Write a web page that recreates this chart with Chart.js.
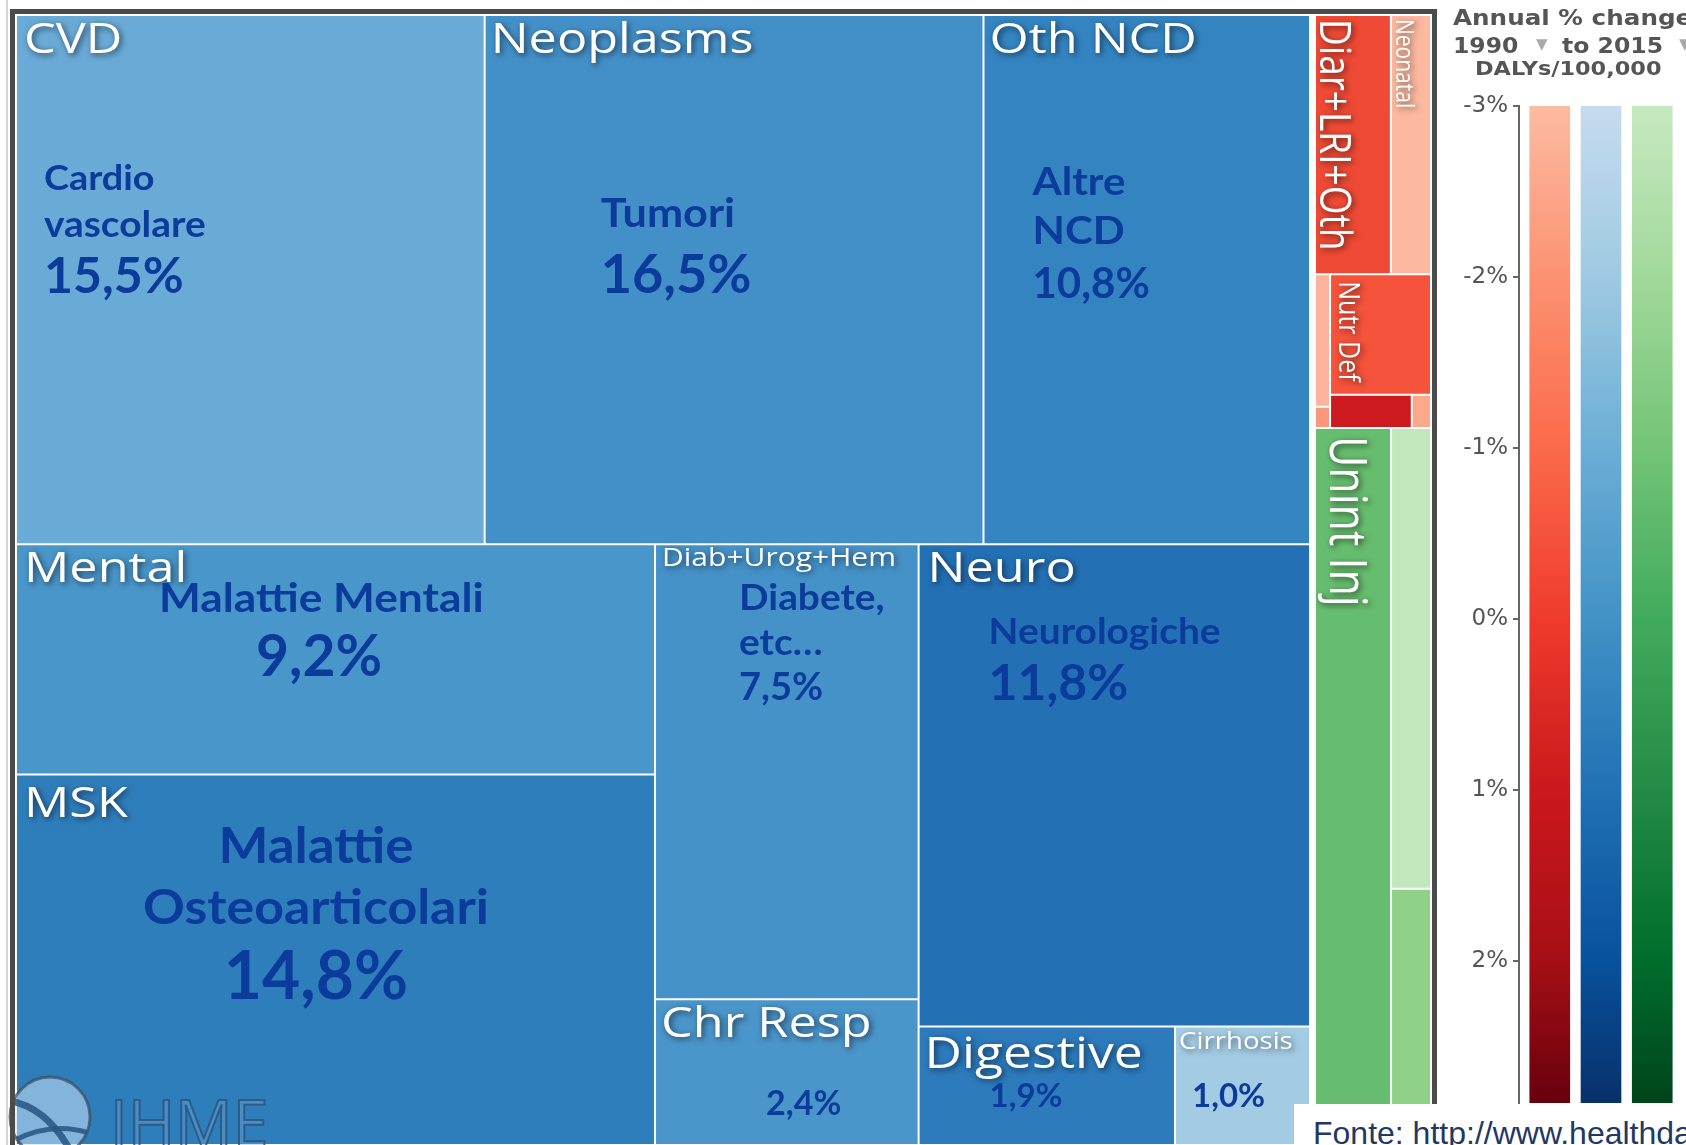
<!DOCTYPE html>
<html>
<head>
<meta charset="utf-8">
<script src="https://cdn.jsdelivr.net/npm/chart.js@4.4.1/dist/chart.umd.min.js"></script>
<style>
  body { margin: 0; width: 1686px; height: 1145px; overflow: hidden; background: #fff; position: relative; }
  #tmBox { position: absolute; left: 0; top: 0; width: 1440px; height: 1145px; }
  #lgBox { position: absolute; left: 1440px; top: 0; width: 246px; height: 1145px; }
  #fonte { position: absolute; left: 1294px; top: 1104px; width: 392px; height: 41px; background: #fff; overflow: hidden; }
  #fonte p { margin: 0; position: absolute; left: 19px; top: 13px; white-space: nowrap;
             font: 32px/32px "Liberation Sans", Arial, sans-serif; color: #1f3864; }
</style>
</head>
<body>
<div id="tmBox"><canvas id="treemap"></canvas></div>
<div id="lgBox"><canvas id="legend"></canvas></div>
<div id="fonte"><p>Fonte: http://www.healthdata.org/results/data-visualizations</p></div>
<script>
// share of DALYs (%) - non communicable diseases
const ncdNames  = ['CVD', 'Neoplasms', 'Oth NCD', 'Mental', 'MSK', 'Diab+Urog+Hem', 'Chr Resp', 'Neuro', 'Digestive', 'Cirrhosis'];
const ncdValues = [15.5, 16.5, 10.8, 9.2, 14.8, 7.5, 2.4, 11.8, 1.9, 1.0];
const ncdColors = ['#69aad6', '#4390c8', '#3484c1', '#4996ca', '#2f7ebc', '#4592c8', '#4a95ca', '#2470b5', '#2d7bbd', '#a3cce4'];

// communicable, maternal, neonatal, nutritional
const commNames  = ['Diar+LRI+Oth', 'Neonatal', 'Oth Comm', 'Maternal', 'Nutr Def', 'HIV+TB', 'NTD+Mal'];
const commValues = [1.23, 0.65, 0.125, 0.02, 0.76, 0.17, 0.04];
const commColors = ['#ef4a35', '#fcb99f', '#fcb59c', '#fb987c', '#f5533c', '#cc1a1e', '#fca88b'];

// injuries
const injNames  = ['Unint Inj', 'Transport', 'Self-harm'];
const injValues = [3.41, 1.15, 0.64];
const injColors = ['#67bd6f', '#c3e7bc', '#90d18a'];

// colour legend: annual % change 1990-2015
const legendCats  = ['Comm', 'NCD', 'Inj'];
const legendStops = [-3, -2, -1, 0, 1, 2, 2.83];
const legendReds   = ['#fcbba1', '#fc9272', '#fb6a4a', '#ef3b2c', '#cb181d', '#a50f15', '#67000d'];
const legendBlues  = ['#c6dbef', '#9ecae1', '#6baed6', '#4292c6', '#2171b5', '#08519c', '#08306b'];
const legendGreens = ['#c7e9c0', '#a1d99b', '#74c476', '#41ab5d', '#238b45', '#006d2c', '#00441b'];
const legendPalettes = [legendReds, legendBlues, legendGreens];

const names  = ncdNames.concat(commNames, injNames);
const values = ncdValues.concat(commValues, injValues);
const colors = ncdColors.concat(commColors, injColors);

// how the boxes are nested: 'h' splits side by side, 'v' splits top to bottom
const tree = ['h',
  ['v', ['h', 'CVD', 'Neoplasms', 'Oth NCD'],
        ['h', ['v', 'Mental', 'MSK'], ['v', 'Diab+Urog+Hem', 'Chr Resp'], ['v', 'Neuro', ['h', 'Digestive', 'Cirrhosis']]]],
  ['v', ['v', ['h', 'Diar+LRI+Oth', 'Neonatal'],
              ['h', ['v', 'Oth Comm', 'Maternal'], ['v', 'Nutr Def', ['h', 'HIV+TB', 'NTD+Mal']]]],
        ['h', 'Unint Inj', ['v', 'Transport', 'Self-harm']]]
];
const groupGap = 0.35;

function total(node) {
  if (typeof node === 'string') return values[names.indexOf(node)];
  return node.slice(1).reduce((s, n) => s + total(n), 0);
}

function layout(node, x0, y0, x1, y1, out, gap) {
  if (typeof node === 'string') { out[names.indexOf(node)] = { x0, y0, x1, y1 }; return; }
  const kids = node.slice(1);
  const sum = total(node);
  const g = gap || 0;
  const span = (node[0] === 'h' ? x1 - x0 : y1 - y0) - g * (kids.length - 1);
  let pos = node[0] === 'h' ? x0 : y0;
  kids.forEach(k => {
    const len = span * total(k) / sum;
    if (node[0] === 'h') layout(k, pos, y0, pos + len, y1, out);
    else layout(k, x0, pos, x1, pos + len, out);
    pos += len + g;
  });
}

const boxes = [];
layout(tree, 0, 0, 100, 100, boxes, groupGap);
const cells = boxes.map(b => ({ x: (b.x0 + b.x1) / 2, y: [b.y0, b.y1], x0: b.x0, x1: b.x1, y0: b.y0, y1: b.y1 }));

// bar elements placed as rectangles on linear x / y scales
class TreemapController extends Chart.BarController {
  updateElements(rects, start, count, mode) {
    const meta = this._cachedMeta;
    const xs = meta.xScale, ys = meta.yScale;
    const data = this.getDataset().data;
    for (let i = start; i < start + count; i++) {
      const d = data[i];
      const left = xs.getPixelForValue(d.x0), right = xs.getPixelForValue(d.x1);
      const top = ys.getPixelForValue(d.y0), bottom = ys.getPixelForValue(d.y1);
      this.updateElement(rects[i], i, {
        x: (left + right) / 2, y: top, base: bottom,
        width: right - left, height: bottom - top,
        horizontal: false, inflateAmount: 0,
        borderSkipped: { top: false, bottom: false, left: false, right: false },
        options: this.resolveDataElementOptions(i, mode)
      }, mode);
    }
  }
}
TreemapController.id = 'treemapLite';
Chart.register(TreemapController);

function drawText(ctx, txt, x, y, o) {
  ctx.save();
  ctx.translate(x, y);
  ctx.scale(o.sx || 1, 1);
  if (o.rotate) ctx.rotate(Math.PI / 2);
  ctx.font = o.font;
  ctx.fillStyle = o.color;
  ctx.textAlign = o.align || 'left';
  ctx.textBaseline = 'alphabetic';
  if (o.shadow) {
    ctx.shadowColor = 'rgba(0,0,0,0.6)';
    ctx.shadowBlur = 6;
    ctx.shadowOffsetX = 2;
    ctx.shadowOffsetY = 2;
  }
  ctx.fillText(txt, 0, 0);
  ctx.restore();
}

// [cell, text, dx, dy, size, rotated]
const whiteLabels = [
  ['CVD', 'CVD', 8, 38, 42], ['Neoplasms', 'Neoplasms', 6, 38, 42], ['Oth NCD', 'Oth NCD', 6, 38, 42],
  ['Mental', 'Mental', 8, 38, 42], ['MSK', 'MSK', 8, 43, 42], ['Diab+Urog+Hem', 'Diab+Urog+Hem', 7, 22, 25],
  ['Chr Resp', 'Chr Resp', 6, 38, 42], ['Neuro', 'Neuro', 9, 38, 42], ['Digestive', 'Digestive', 6, 42, 43],
  ['Cirrhosis', 'Cirrhosis', 4, 23, 23],
  ['Diar+LRI+Oth', 'Diar+LRI+Oth', 5, 4, 37, true], ['Neonatal', 'Neonatal', 5, 4, 21, true],
  ['Nutr Def', 'Nutr Def', 9, 7, 25, true], ['Unint Inj', 'Unint Inj', 15, 8, 43, true]
];
// [cell, text, dx, dy, size, centered]
const italianLabels = [
  ['CVD', 'Cardio', 28, 175, 35], ['CVD', 'vascolare', 28, 222, 36], ['CVD', '15,5%', 28, 278, 50],
  ['Neoplasms', 'Tumori', 116, 212, 40], ['Neoplasms', '16,5%', 116, 278, 54],
  ['Oth NCD', 'Altre', 49, 180, 39], ['Oth NCD', 'NCD', 49, 229, 39], ['Oth NCD', '10,8%', 49, 283, 42],
  ['Mental', 'Malattie Mentali', 143, 68, 41], ['Mental', '9,2%', 240, 132, 57],
  ['MSK', 'Malattie', 300, 89, 49, true], ['MSK', 'Osteoarticolari', 300, 150, 48, true], ['MSK', '14,8%', 300, 225, 66, true],
  ['Diab+Urog+Hem', 'Diabete,', 84, 66, 36], ['Diab+Urog+Hem', 'etc…', 84, 111, 36], ['Diab+Urog+Hem', '7,5%', 84, 156, 38],
  ['Chr Resp', '2,4%', 111, 116, 34],
  ['Neuro', 'Neurologiche', 70, 100, 36], ['Neuro', '11,8%', 70, 156, 50],
  ['Digestive', '1,9%', 71, 81, 33], ['Cirrhosis', '1,0%', 17, 81, 33]
];

function cellBox(chart, name) {
  const el = chart.getDatasetMeta(0).data[names.indexOf(name)];
  const p = el.getProps(['x', 'y', 'base', 'width']);
  return { left: p.x - p.width / 2, top: Math.min(p.y, p.base) };
}

const labelPlugin = {
  id: 'labels',
  afterDatasetsDraw(chart) {
    const ctx = chart.ctx;
    whiteLabels.forEach(([cell, txt, dx, dy, size, rot]) => {
      const b = cellBox(chart, cell);
      drawText(ctx, txt, b.left + dx, b.top + dy, {
        font: size + 'px "Open Sans", sans-serif', color: '#fff', sx: 1.2, rotate: rot, shadow: true
      });
    });
    italianLabels.forEach(([cell, txt, dx, dy, size, center]) => {
      const b = cellBox(chart, cell);
      const isNum = /%$/.test(txt);
      drawText(ctx, txt, b.left + dx, b.top + dy, {
        font: 'bold ' + size + 'px Lato, sans-serif', color: '#0b3b9b', sx: isNum ? 1 : 1.08,
        align: center ? 'center' : 'left'
      });
    });
  }
};

const framePlugin = {
  id: 'frame',
  afterDraw(chart) {
    const ctx = chart.ctx;
    ctx.save();
    // IHME watermark
    ctx.beginPath();
    ctx.arc(50, 1117, 40, 0, Math.PI * 2);
    ctx.fillStyle = 'rgba(200,225,245,0.55)';
    ctx.fill();
    ctx.save();
    ctx.clip();
    ctx.strokeStyle = 'rgba(40,85,130,0.85)';
    ctx.lineWidth = 7;
    ctx.beginPath();
    ctx.moveTo(5, 1100);
    ctx.quadraticCurveTo(45, 1105, 70, 1150);
    ctx.stroke();
    ctx.lineWidth = 5;
    ctx.beginPath();
    ctx.moveTo(15, 1140);
    ctx.quadraticCurveTo(55, 1120, 95, 1135);
    ctx.stroke();
    ctx.restore();
    ctx.beginPath();
    ctx.arc(50, 1117, 40, 0, Math.PI * 2);
    ctx.strokeStyle = 'rgba(60,80,100,0.75)';
    ctx.lineWidth = 3;
    ctx.stroke();
    ctx.font = '64px "Open Sans", sans-serif';
    ctx.fillStyle = 'rgba(120,170,215,0.35)';
    ctx.strokeStyle = 'rgba(45,85,125,0.85)';
    ctx.lineWidth = 2;
    ctx.fillText('IHME', 110, 1146);
    ctx.strokeText('IHME', 110, 1146);
    // frame
    ctx.strokeStyle = '#c8c8c8';
    ctx.lineWidth = 1.5;
    ctx.beginPath();
    ctx.moveTo(7, 0);
    ctx.lineTo(7, 1145);
    ctx.stroke();
    ctx.strokeStyle = '#4b4b4b';
    ctx.lineWidth = 5;
    ctx.strokeRect(12.5, 11.5, 1422, 1150);
    ctx.restore();
  }
};

new Chart(document.getElementById('treemap'), {
  type: 'treemapLite',
  data: {
    datasets: [{
      data: cells,
      backgroundColor: colors,
      borderColor: 'rgba(255,255,255,0.88)',
      borderWidth: 1
    }]
  },
  options: {
    responsive: true,
    maintainAspectRatio: false,
    animation: false,
    events: [],
    layout: { padding: { left: 16, top: 15, right: 9, bottom: 0 } },
    scales: {
      x: { type: 'linear', min: 0, max: 100, display: false, offset: false, grid: { offset: false } },
      y: { type: 'linear', min: 0, max: 100, reverse: true, display: false, offset: false }
    },
    plugins: { legend: { display: false }, tooltip: { enabled: false } }
  },
  plugins: [labelPlugin, framePlugin]
});

// colour key
function barGradient(c) {
  const chart = c.chart, y = chart.scales.y;
  const pal = legendPalettes[c.dataIndex];
  if (!chart.chartArea || !y) return pal[3];
  const top = y.getPixelForValue(legendStops[0]);
  const bot = y.getPixelForValue(legendStops[legendStops.length - 1]);
  const g = chart.ctx.createLinearGradient(0, top, 0, bot);
  legendStops.forEach((v, k) => g.addColorStop((y.getPixelForValue(v) - top) / (bot - top), pal[k]));
  return g;
}

const headerPlugin = {
  id: 'header',
  afterDraw(chart) {
    const ctx = chart.ctx;
    const dark = '#555555';
    drawText(ctx, 'Annual % change', 13, 25, { font: 'bold 22px "DejaVu Sans"', color: dark, sx: 1.12 });
    drawText(ctx, '1990', 13, 53, { font: 'bold 21px "DejaVu Sans"', color: dark, sx: 1.12 });
    drawText(ctx, '▼', 96, 49, { font: '15px "DejaVu Sans"', color: '#aaaaaa' });
    drawText(ctx, 'to 2015', 122, 53, { font: 'bold 21px "DejaVu Sans"', color: dark, sx: 1.12 });
    drawText(ctx, '▼', 239, 49, { font: '15px "DejaVu Sans"', color: '#aaaaaa' });
    drawText(ctx, 'DALYs/100,000', 35, 75, { font: 'bold 20px "DejaVu Sans"', color: dark, sx: 1.12 });
  }
};

new Chart(document.getElementById('legend'), {
  type: 'bar',
  data: {
    datasets: [{
      data: legendCats.map((c, i) => ({ x: i + 1, y: [legendStops[0], legendStops[legendStops.length - 1]] })),
      backgroundColor: barGradient,
      borderWidth: 0,
      barThickness: 40
    }]
  },
  options: {
    responsive: true,
    maintainAspectRatio: false,
    animation: false,
    events: [],
    layout: { padding: { left: 0, top: 106, right: 3, bottom: 42 } },
    scales: {
      x: { type: 'linear', min: 0.4, max: 3.6, display: false, offset: false, grid: { offset: false } },
      y: {
        type: 'linear', reverse: true, min: -3, max: 2.83,
        afterFit(s) { s.width = 79; },
        afterBuildTicks(s) { s.ticks = s.ticks.filter(t => Number.isInteger(t.value)); },
        ticks: { stepSize: 1, padding: 5, color: '#555', font: { family: 'DejaVu Sans', size: 23 }, callback: v => v + '%' },
        grid: { drawOnChartArea: false, tickLength: 6, color: '#666', lineWidth: 2 },
        border: { display: true, color: '#666', width: 2 }
      }
    },
    plugins: { legend: { display: false }, tooltip: { enabled: false } }
  },
  plugins: [headerPlugin]
});
</script>
</body>
</html>
